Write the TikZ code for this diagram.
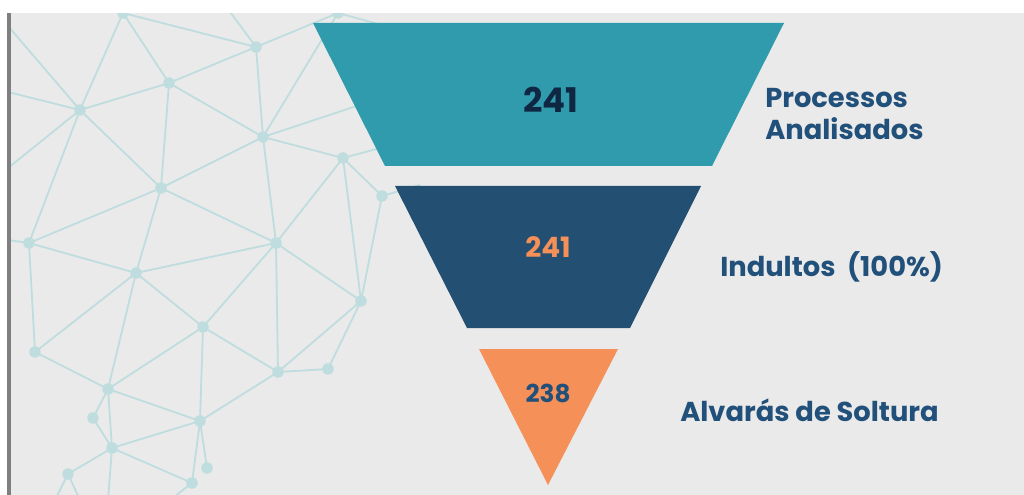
\documentclass[tikz,border=0pt]{standalone}
\usepackage{fontspec}
\setmainfont{Poppins}
\definecolor{bgc}{HTML}{EAEAEA}
\definecolor{barc}{HTML}{7F7F7F}
\definecolor{netc}{HTML}{BFDDDE}
\definecolor{tealc}{HTML}{309BAC}
\definecolor{navyc}{HTML}{234F72}
\definecolor{orangec}{HTML}{F59059}
\definecolor{txtc}{HTML}{21507A}
\definecolor{darkc}{HTML}{0F2742}
\tikzset{
  netline/.style={draw=netc, line width=1.35pt},
  netdot/.style={fill=netc},
  lbl/.style={anchor=west, text=txtc, font=\bfseries\fontsize{20.5}{24}\selectfont, align=left, inner sep=0pt},
  num/.style={font=\bfseries, inner sep=0pt}
}
\begin{document}
\begin{tikzpicture}[x=0.75pt,y=-0.75pt]
\useasboundingbox (0,0) rectangle (1024,495);
\fill[bgc] (0,0) rectangle (1024,495);
% network points
\coordinate (A) at (123,13);
\coordinate (A2) at (338,13);
\coordinate (B) at (256,47);
\coordinate (C) at (169,83);
\coordinate (D) at (80,110);
\coordinate (E) at (263,137);
\coordinate (F) at (343,158);
\coordinate (G) at (382,196);
\coordinate (H) at (161,188);
\coordinate (I) at (29,243);
\coordinate (J) at (276,243);
\coordinate (L) at (136,273);
\coordinate (K) at (361,301);
\coordinate (N) at (203,327);
\coordinate (M) at (35,352);
\coordinate (P) at (278,372);
\coordinate (Q) at (328,369);
\coordinate (O) at (108,389);
\coordinate (S) at (93,418);
\coordinate (R) at (200,421);
\coordinate (T) at (112,448);
\coordinate (U) at (207,468);
\coordinate (W) at (68,474);
\coordinate (V) at (192,483);
% off-picture ends
\coordinate (e1) at (8,26);
\coordinate (e2) at (8,92);
\coordinate (e3) at (8,168);
\coordinate (e4) at (8,240);
\coordinate (t1) at (225,5);
\coordinate (h1) at (420,85);
\coordinate (h2) at (410,140);
\coordinate (h3) at (420,185);
\coordinate (a2r) at (400,30);
\coordinate (b1) at (108,500);
\coordinate (b2) at (55,500);
\coordinate (b3) at (80,500);
\coordinate (b4) at (170,500);
% network lines
\path[netline]
  (e1)--(D) (e2)--(D) (e3)--(D) (e4)--(I)
  (D)--(A) (A)--(C) (A)--(B) (C)--(D) (C)--(B) (t1)--(B) (B)--(A2) (B)--(E)
  (E)--(A2) (A2)--(a2r) (C)--(E) (C)--(H) (D)--(H) (D)--(I) (H)--(I) (H)--(E)
  (E)--(h1) (E)--(F) (F)--(G) (F)--(h2) (G)--(h3) (F)--(K) (G)--(K)
  (F)--(J) (E)--(J) (H)--(J) (H)--(L) (I)--(M) (I)--(L) (L)--(J)
  (L)--(M) (L)--(N) (L)--(O) (J)--(N) (J)--(P) (J)--(K) (K)--(P) (K)--(Q)
  (P)--(Q) (N)--(P) (N)--(O) (N)--(R) (P)--(R) (M)--(O) (O)--(R) (O)--(S)
  (O)--(T) (S)--(T) (T)--(R) (R)--(U) (R)--(V) (T)--(V) (T)--(W)
  (T)--(b1) (W)--(b2) (W)--(b3) (V)--(b4);
\foreach \p in {A,A2,B,C,D,E,F,G,H,I,J,L,K,N,M,P,Q,O,S,R,T,U,W,V}
  \fill[netdot] (\p) circle (4.3pt);
% margins
\fill[white] (0,0) rectangle (1024,13);
\fill[white] (0,0) rectangle (7,495);
\fill[barc] (7,13) rectangle (11,495);
% funnel
\fill[tealc] (313,23) -- (784,23) -- (712,166) -- (385,166) -- cycle;
\fill[navyc] (395,186) -- (701,186) -- (630,328) -- (467,328) -- cycle;
\fill[orangec] (479,349) -- (618,349) -- (548,485) -- cycle;
% numbers
\node[num, text=darkc, font=\bfseries\fontsize{25.5}{30}\selectfont] (n1) at (551,100) {241};
\node[num, text=orangec, font=\bfseries\fontsize{21}{26}\selectfont] (n2) at (548,247) {241};
\node[num, text=txtc, font=\bfseries\fontsize{18.5}{22}\selectfont] (n3) at (548,393) {238};
% labels
\node[lbl] (l1) at (765,114) {Processos\\Analisados};
\node[lbl] (l2) at (720,267) {Indultos\ \ (100\%)};
\node[lbl] (l3) at (680,410) {Alvarás de Soltura};
\end{tikzpicture}
\end{document}
